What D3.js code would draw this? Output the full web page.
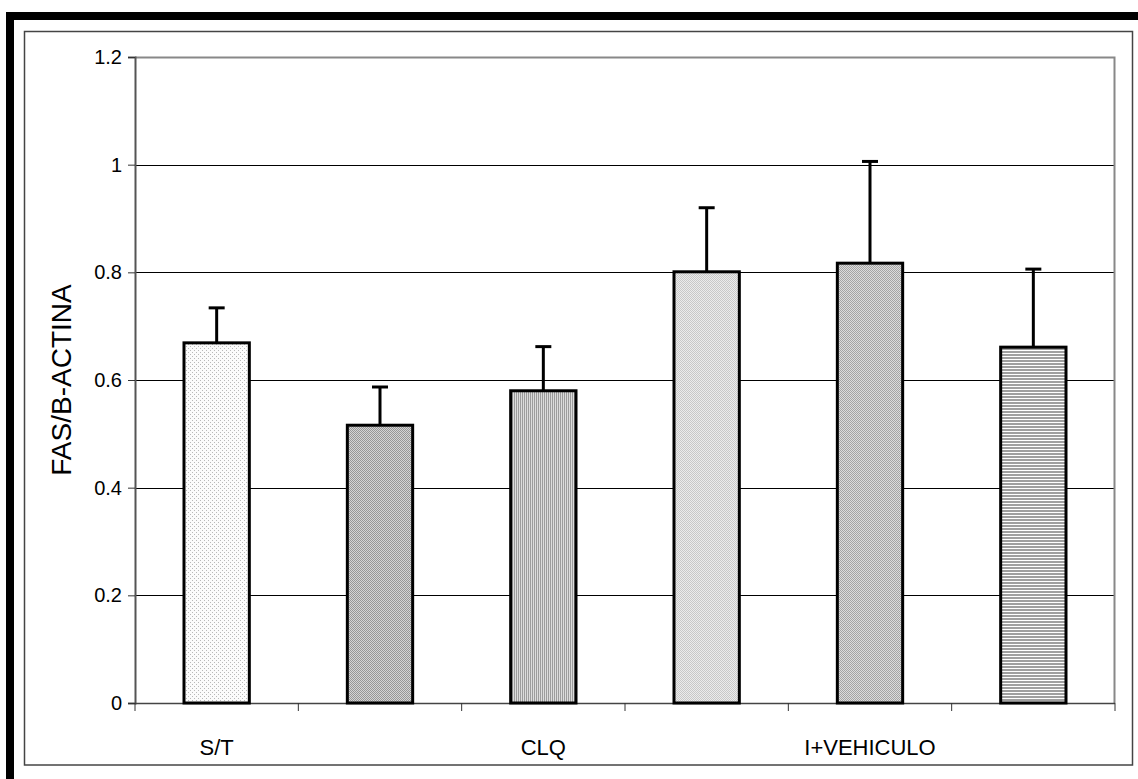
<!DOCTYPE html>
<html>
<head>
<meta charset="utf-8">
<script src="https://cdn.jsdelivr.net/npm/d3@7"></script>
<style>
  html, body { margin: 0; padding: 0; background: #fff; }
  svg { display: block; font-family: "Liberation Sans", Arial, sans-serif; }
</style>
</head>
<body>
<svg id="chart" width="1138" height="779"></svg>
<script>
// Group labels (shown on every other slot, as in the original worksheet)
const categories = ["S/T", "", "CLQ", "", "I+VEHICULO", ""];
// Mean FAS/B-actina ratio per group
const values = [0.669, 0.516, 0.580, 0.801, 0.817, 0.661];
// Upper error bar (SEM)
const errors = [0.065, 0.071, 0.082, 0.119, 0.189, 0.145];
// Y axis ticks
const yTicks = [0, 0.2, 0.4, 0.6, 0.8, 1.0, 1.2];
const yTitle = "FAS/B-ACTINA";

const svg = d3.select("#chart");

// Fill patterns, one per bar
const defs = svg.append("defs");
function pattern(id, w, h, bg, rects) {
  const p = defs.append("pattern").attr("id", id)
    .attr("patternUnits", "userSpaceOnUse").attr("width", w).attr("height", h);
  p.append("rect").attr("width", w).attr("height", h).attr("fill", bg);
  rects.forEach(r => p.append("rect").attr("x", r[0]).attr("y", r[1])
    .attr("width", r[2]).attr("height", r[3]).attr("fill", r[4]));
}
pattern("p0", 4, 4, "#fbfbfb", [[0,0,1,1,"#b8b8b8"],[2,2,1,1,"#b8b8b8"]]);
pattern("p1", 2, 2, "#d4d4d4", [[0,0,1,1,"#969696"],[1,1,1,1,"#969696"]]);
pattern("p2", 2, 2, "#dcdcdc", [[0,0,1,2,"#9c9c9c"]]);
pattern("p3", 2, 2, "#ececec", [[0,0,1,1,"#c8c8c8"],[1,1,1,1,"#c8c8c8"]]);
pattern("p4", 2, 2, "#dcdcdc", [[0,0,1,1,"#a4a4a4"],[1,1,1,1,"#a4a4a4"]]);
pattern("p5", 3, 3, "#ffffff", [[0,0,3,2,"#a0a0a0"]]);

// Frames
svg.append("rect").attr("x", 10).attr("y", 16).attr("width", 1140).attr("height", 780)
  .attr("fill", "none").attr("stroke", "#000").attr("stroke-width", 8);
svg.append("rect").attr("x", 24.5).attr("y", 31.5).attr("width", 1108).attr("height", 733.5)
  .attr("fill", "none").attr("stroke", "#444").attr("stroke-width", 1.5);

const plot = { left: 135, right: 1115, top: 57, bottom: 703 };

const x = d3.scaleBand()
  .domain(d3.range(categories.length))
  .range([plot.left, plot.right])
  .paddingInner(0.6).paddingOuter(0.3);
const xOuter = d3.scaleBand().domain(d3.range(categories.length))
  .range([plot.left, plot.right]);

const y = d3.scaleLinear().domain([0, 1.2]).range([plot.bottom, plot.top]);

// Gridlines
svg.append("g").selectAll("line").data(yTicks.filter(d => d > 0 && d < 1.2)).join("line")
  .attr("x1", plot.left).attr("x2", plot.right)
  .attr("y1", d => Math.round(y(d)) + 0.5).attr("y2", d => Math.round(y(d)) + 0.5)
  .attr("stroke", "#000").attr("stroke-width", 1);

// Plot border (top / right)
svg.append("path")
  .attr("d", `M${plot.left},${plot.top + 0.5}H${plot.right - 0.5}V${plot.bottom}`)
  .attr("fill", "none").attr("stroke", "#888").attr("stroke-width", 2);

// Y axis
const yAxis = svg.append("g").attr("transform", `translate(${plot.left},0)`)
  .call(d3.axisLeft(y).tickValues(yTicks).tickSize(7).tickPadding(6)
    .tickFormat(d => d === 0 ? "0" : d3.format("")(+d.toFixed(1))));
yAxis.select(".domain").attr("stroke", "#555").attr("stroke-width", 2);
yAxis.selectAll(".tick line").attr("stroke", "#333");
yAxis.selectAll("text").attr("font-size", 20).attr("fill", "#000")
  .attr("font-family", "Liberation Sans, Arial, sans-serif");

// X axis with ticks at category boundaries
const bounds = d3.range(categories.length + 1).map(i =>
  i < categories.length ? xOuter(i) : plot.right);
const xg = svg.append("g");
xg.append("line").attr("x1", plot.left).attr("x2", plot.right)
  .attr("y1", plot.bottom + 0.5).attr("y2", plot.bottom + 0.5)
  .attr("stroke", "#444").attr("stroke-width", 1.5);
xg.selectAll("line.tk").data(bounds).join("line").attr("class", "tk")
  .attr("x1", d => d).attr("x2", d => d)
  .attr("y1", plot.bottom).attr("y2", plot.bottom + 8)
  .attr("stroke", "#333").attr("stroke-width", 1);
xg.selectAll("text").data(categories).join("text")
  .attr("x", (d, i) => xOuter(i) + xOuter.bandwidth() / 2)
  .attr("y", 755)
  .attr("text-anchor", "middle").attr("font-size", 22).attr("fill", "#000")
  .text(d => d);

// Bars
svg.append("g").selectAll("rect").data(values).join("rect")
  .attr("x", (d, i) => x(i)).attr("width", x.bandwidth())
  .attr("y", d => y(d)).attr("height", d => y(0) - y(d))
  .attr("fill", (d, i) => `url(#p${i})`)
  .attr("stroke", "#000").attr("stroke-width", 3);

// Error bars
const eb = svg.append("g").attr("stroke", "#000").attr("stroke-width", 3);
values.forEach((v, i) => {
  const cx = x(i) + x.bandwidth() / 2;
  eb.append("line").attr("x1", cx).attr("x2", cx)
    .attr("y1", y(v)).attr("y2", y(v + errors[i]));
  eb.append("line").attr("x1", cx - 8).attr("x2", cx + 8)
    .attr("y1", y(v + errors[i])).attr("y2", y(v + errors[i]));
});

// Y axis title
svg.append("text")
  .attr("transform", `translate(71,${(plot.top + plot.bottom) / 2}) rotate(-90)`)
  .attr("text-anchor", "middle").attr("font-size", 28).attr("fill", "#000")
  .text(yTitle);
</script>
</body>
</html>
